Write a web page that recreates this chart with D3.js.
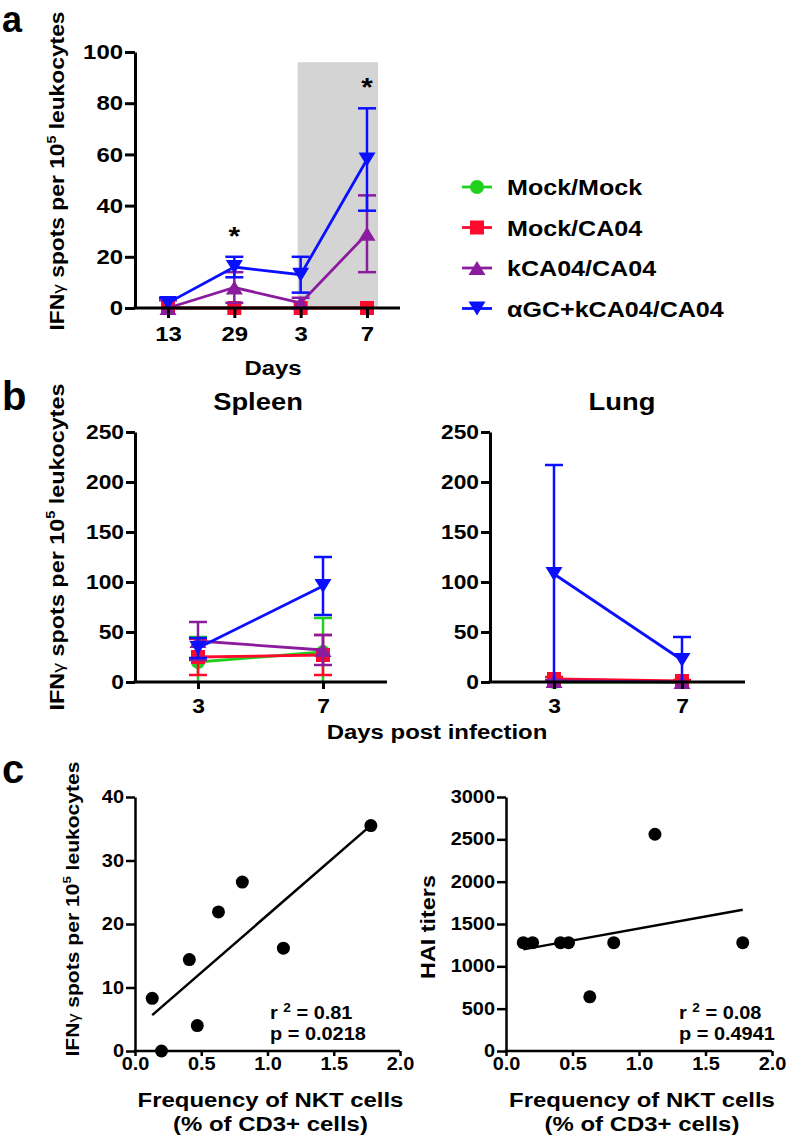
<!DOCTYPE html>
<html><head><meta charset="utf-8">
<script src="https://cdn.jsdelivr.net/npm/d3@7"></script>
<style>
body{margin:0;background:#fff}
svg text{font-family:"Liberation Sans",Arial,sans-serif;font-weight:bold;fill:#000}
</style></head><body>
<svg id="c" width="787" height="1142"></svg>
<script>
// ---------------- DATA ----------------
const seriesNames = ["Mock/Mock", "Mock/CA04", "kCA04/CA04", "αGC+kCA04/CA04"];
const seriesColors = ["#1fd01f", "#ff0a2d", "#8b1c9e", "#0a10ff"];
const seriesShapes = ["circle", "square", "triUp", "triDown"];

// Panel a
const daysA = ["13", "29", "3", "7"];
const aMockMock = [0, 0, 0, 0];
const aMockMockErr = [0, 0, 0, 0];
const aMockCA04 = [0, 0, 0, 0];
const aMockCA04Err = [0, 0, 0, 0];
const aKCA04 = [0, 8, 2, 29];
const aKCA04Err = [3, 6, 2, 15];
const aAGC = [2, 16, 13, 58];
const aAGCErr = [2, 4, 7, 20];
const aStarDays = ["29", "7"];
const aTicks = [0, 20, 40, 60, 80, 100];

// Panel b
const daysB = ["3", "7"];
const sMockMock = [20, 30], sMockMockErr = [25, 34];
const sMockCA04 = [25, 27], sMockCA04Err = [18, 20];
const sKCA04 = [41, 32], sKCA04Err = [19, 15];
const sAGC = [34, 96], sAGCErr = [10, 29];
const lMockMock = [0, 0], lMockMockErr = [0, 0];
const lMockCA04 = [3, 1], lMockCA04Err = [2, 1];
const lKCA04 = [1, 0], lKCA04Err = [1, 0];
const lAGC = [108, 22], lAGCErr = [109, 23];
const bTicks = [0, 50, 100, 150, 200, 250];

// Panel c
const nktFreq = [0.13, 0.20, 0.41, 0.47, 0.63, 0.81, 1.12, 1.78];
const ifngSpots = [8.3, 0, 14.4, 4.0, 21.9, 26.6, 16.2, 35.5];
const haiTiters = [1280, 1280, 1280, 1280, 640, 1280, 2560, 1280];
const cTicksX = [0, 0.5, 1.0, 1.5, 2.0];
const cTicksY1 = [0, 10, 20, 30, 40];
const cTicksY2 = [0, 500, 1000, 1500, 2000, 2500, 3000];
const statsLeft = ["0.81", "0.0218"];
const statsRight = ["0.08", "0.4941"];

// ---------------- HELPERS ----------------
const S = 1.14;
const svg = d3.select("#c");
svg.append("rect").attr("width", 787).attr("height", 1142).attr("fill", "#fff");

function stretch(sel) {
  sel.each(function () {
    const t = d3.select(this);
    const x = +t.attr("x") || 0;
    t.attr("transform", `translate(${x},0) scale(${S},1) translate(${-x},0)`);
  });
}
function label(x, y, size, anchor, rot) {
  const g = svg.append("g").attr("transform", `translate(${x},${y})${rot ? " rotate(-90)" : ""} scale(${S},1)`);
  return g.append("text").attr("text-anchor", anchor || "middle").style("font-size", size + "px");
}
function ifnTitle(t, size) {
  t.append("tspan").text("IFN");
  t.append("tspan").text("γ").style("font-size", (size * 0.85) + "px").style("font-weight", "normal");
  t.append("tspan").text(" spots per 10");
  t.append("tspan").text("5").style("font-size", (size * 0.62) + "px").attr("dy", -size * 0.42);
  t.append("tspan").text(" leukocytes").attr("dy", size * 0.42);
}
function markerPath(shape) {
  if (shape === "circle") return d3.symbol(d3.symbolCircle, Math.PI * 49)();
  if (shape === "square") return "M-7,-7H7V7H-7Z";
  if (shape === "triUp") return "M-8.5,7L8.5,7L0,-7Z";
  return "M-8.5,-7L8.5,-7L0,7Z";
}
function styleAxis(g, size, sw) {
  g.selectAll("path.domain").attr("stroke", "#000").attr("stroke-width", sw);
  g.selectAll(".tick line").attr("stroke", "#000").attr("stroke-width", sw);
  g.selectAll(".tick text").style("font-size", size + "px").attr("fill", "#000")
    .style("font-family", '"Liberation Sans",Arial,sans-serif').style("font-weight", "bold");
  stretch(g.selectAll(".tick text"));
}
function drawSeries(g, x, y, days, means, errs, i) {
  const col = seriesColors[i];
  const pts = days.map((d, k) => ({ d, m: means[k], e: errs[k] }));
  const eg = g.append("g");
  pts.forEach(p => {
    if (p.e > 0) {
      const cx = x(p.d), y1 = y(p.m + p.e), y0 = y(p.m - p.e);
      eg.append("line").attr("x1", cx).attr("x2", cx).attr("y1", y0).attr("y2", y1).attr("stroke", col).attr("stroke-width", 2.5);
      eg.append("line").attr("x1", cx - 9).attr("x2", cx + 9).attr("y1", y1).attr("y2", y1).attr("stroke", col).attr("stroke-width", 2.5);
      if (p.m - p.e > 0)
        eg.append("line").attr("x1", cx - 9).attr("x2", cx + 9).attr("y1", y0).attr("y2", y0).attr("stroke", col).attr("stroke-width", 2.5);
    }
  });
  g.append("path").datum(pts).attr("fill", "none").attr("stroke", col).attr("stroke-width", 2.8)
    .attr("d", d3.line().x(p => x(p.d)).y(p => y(p.m)));
  g.selectAll(null).data(pts).enter().append("path")
    .attr("transform", p => `translate(${x(p.d)},${y(p.m)})`)
    .attr("d", markerPath(seriesShapes[i])).attr("fill", col);
}
function xAxisLine(x0, x1, y0, sw) {
  svg.append("line").attr("x1", x0 - sw / 2).attr("x2", x1).attr("y1", y0).attr("y2", y0).attr("stroke", "#000").attr("stroke-width", sw);
}

// ---------------- PANEL A ----------------
const xA = d3.scalePoint().domain(daysA).range([168, 367]);
const yA = d3.scaleLinear().domain([0, 100]).range([308, 52]).clamp(true);
svg.append("rect").attr("x", xA("3") - 3).attr("y", yA(96)).attr("width", xA("7") + 11 - (xA("3") - 3))
  .attr("height", yA(0) - yA(96)).attr("fill", "#d4d4d4");
const gA = svg.append("g");
[[aMockMock, aMockMockErr], [aMockCA04, aMockCA04Err], [aKCA04, aKCA04Err], [aAGC, aAGCErr]]
  .forEach((s, i) => drawSeries(gA, xA, yA, daysA, s[0], s[1], i));
const axA = svg.append("g").attr("transform", "translate(135,0)")
  .call(d3.axisLeft(yA).tickValues(aTicks).tickSize(10).tickPadding(2).tickSizeOuter(0));
styleAxis(axA, 21, 3);
xAxisLine(135, 400, 308, 3);
const axAx = svg.append("g").attr("transform", "translate(0,308)")
  .call(d3.axisBottom(xA).tickSize(10).tickPadding(8));
axAx.select(".domain").remove();
styleAxis(axAx, 21, 3);
aStarDays.forEach(d => {
  const k = daysA.indexOf(d);
  label(xA(d), yA(aAGC[k] + aAGCErr[k]) - 12, 26, "middle").text("*");
});
label(273, 375, 21, "middle").text("Days");
ifnTitle(label(64, 171, 20, "middle", true), 20);
svg.append("text").attr("x", 2).attr("y", 32).style("font-size", "36px").text("a");

// legend
seriesNames.forEach((n, i) => {
  const yy = 187 + i * 40.5;
  svg.append("line").attr("x1", 462).attr("x2", 492).attr("y1", yy).attr("y2", yy).attr("stroke", seriesColors[i]).attr("stroke-width", 2.8);
  svg.append("path").attr("transform", `translate(477,${yy})`).attr("d", markerPath(seriesShapes[i])).attr("fill", seriesColors[i]);
  label(507, yy + 8, 22, "start").text(n);
});

// ---------------- PANEL B ----------------
const yB = d3.scaleLinear().domain([0, 250]).range([682, 432]).clamp(true);
const xS = d3.scalePoint().domain(daysB).range([198, 323]);
const xL = d3.scalePoint().domain(daysB).range([554, 682]);
const gS = svg.append("g");
[[sMockMock, sMockMockErr], [sMockCA04, sMockCA04Err], [sKCA04, sKCA04Err], [sAGC, sAGCErr]]
  .forEach((s, i) => drawSeries(gS, xS, yB, daysB, s[0], s[1], i));
const gL = svg.append("g");
[[lMockMock, lMockMockErr], [lMockCA04, lMockCA04Err], [lKCA04, lKCA04Err], [lAGC, lAGCErr]]
  .forEach((s, i) => drawSeries(gL, xL, yB, daysB, s[0], s[1], i));
[[135, xS, 387], [490, xL, 745]].forEach(([ax, xs, xend]) => {
  const gy = svg.append("g").attr("transform", `translate(${ax},0)`)
    .call(d3.axisLeft(yB).tickValues(bTicks).tickSize(9).tickPadding(2).tickSizeOuter(0));
  styleAxis(gy, 20, 3);
  xAxisLine(ax, xend, 682, 3);
  const gx = svg.append("g").attr("transform", "translate(0,682)")
    .call(d3.axisBottom(xs).tickSize(7).tickPadding(10));
  gx.select(".domain").remove();
  styleAxis(gx, 20, 3);
});
label(258, 410, 24, "middle").text("Spleen");
label(622, 410, 24, "middle").text("Lung");
label(437, 739, 21, "middle").text("Days post infection");
ifnTitle(label(64, 547, 20.5, "middle", true), 20.5);
svg.append("text").attr("x", 2).attr("y", 410).style("font-size", "40px").text("b");

// ---------------- PANEL C ----------------
function scatter(x0, x1, yDomainMax, yTicks, yVals, stats, statX) {
  const x = d3.scaleLinear().domain([0, 2]).range([x0, x1]);
  const y = d3.scaleLinear().domain([0, yDomainMax]).range([1051, 797]);
  // regression from data
  const mx = d3.mean(nktFreq), my = d3.mean(yVals);
  const sxy = d3.sum(nktFreq, (v, k) => (v - mx) * (yVals[k] - my));
  const sxx = d3.sum(nktFreq, v => (v - mx) * (v - mx));
  const b = sxy / sxx, a = my - b * mx;
  const xmin = d3.min(nktFreq), xmax = d3.max(nktFreq);
  svg.append("line").attr("x1", x(xmin)).attr("y1", y(a + b * xmin)).attr("x2", x(xmax)).attr("y2", y(a + b * xmax))
    .attr("stroke", "#000").attr("stroke-width", 2.5);
  const gy = svg.append("g").attr("transform", `translate(${x0},0)`)
    .call(d3.axisLeft(y).tickValues(yTicks).tickFormat(d3.format("d")).tickSize(9).tickPadding(2).tickSizeOuter(0));
  styleAxis(gy, 17.5, 2.5);
  const gx = svg.append("g").attr("transform", "translate(0,1051)")
    .call(d3.axisBottom(x).tickValues(cTicksX).tickFormat(d3.format(".1f")).tickSize(5).tickPadding(2).tickSizeOuter(0));
  styleAxis(gx, 17.5, 2.5);
  gx.select(".domain").attr("d", `M${x0 - 1.25},0H${x1}`);
  svg.selectAll(null).data(nktFreq).enter().append("circle")
    .attr("cx", d => x(d)).attr("cy", (d, k) => y(yVals[k])).attr("r", 6.5).attr("fill", "#000");
  const t1 = label(statX, 1019, 17.5, "start");
  t1.append("tspan").text("r ");
  t1.append("tspan").text("2").style("font-size", "12px").attr("dy", -7);
  t1.append("tspan").text(" = " + stats[0]).attr("dy", 7);
  label(statX, 1040, 17.5, "start").text("p = " + stats[1]);
  const cx = (x0 + x1) / 2 + 3;
  label(cx, 1107, 21, "middle").text("Frequency of NKT cells");
  label(cx, 1131, 21, "middle").text("(% of CD3+ cells)");
}
scatter(135, 400, 40, cTicksY1, ifngSpots, statsLeft, 270);
scatter(506, 772, 3000, cTicksY2, haiTiters, statsRight, 679);
ifnTitle(label(79, 909, 18.5, "middle", true), 18.5);
label(435, 927, 20.5, "middle", true).text("HAI titers");
svg.append("text").attr("x", 2).attr("y", 783).style("font-size", "40px").text("c");
</script>
</body></html>
